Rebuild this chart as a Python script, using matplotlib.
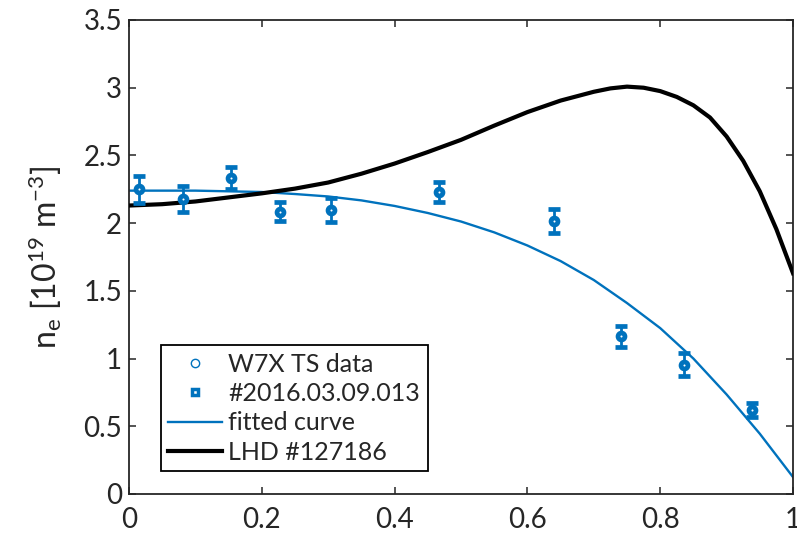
import matplotlib
matplotlib.use("Agg")
import matplotlib.pyplot as plt
from matplotlib.lines import Line2D

plt.rcParams['font.family'] = ['Lato', 'DejaVu Sans']
plt.rcParams['mathtext.fontset'] = 'custom'
plt.rcParams['mathtext.rm'] = 'Lato'
plt.rcParams['mathtext.it'] = 'Lato'

# W7X TS data (#2016.03.09.013)
rho_ts = [0.0155, 0.081, 0.1536, 0.227, 0.304, 0.467, 0.640, 0.7405, 0.836, 0.938]
ne_ts = [2.25, 2.18, 2.335, 2.085, 2.095, 2.228, 2.018, 1.163, 0.955, 0.62]
ne_err = [0.10, 0.095, 0.08, 0.07, 0.09, 0.075, 0.09, 0.077, 0.083, 0.054]

# fitted curve
rho_fit = [0.0, 0.05, 0.1, 0.15, 0.2, 0.25, 0.3, 0.35, 0.4, 0.45, 0.5, 0.55,
           0.6, 0.65, 0.7, 0.75, 0.8, 0.85, 0.9, 0.95, 1.0]
ne_fit = [2.24, 2.24, 2.24, 2.235, 2.23, 2.215, 2.197, 2.168, 2.127, 2.075,
          2.012, 1.932, 1.835, 1.72, 1.58, 1.41, 1.225, 1.0, 0.735, 0.445, 0.125]

# LHD #127186
rho_lhd = [0.0, 0.05, 0.1, 0.15, 0.2, 0.25, 0.3, 0.35, 0.4, 0.45, 0.5, 0.55,
           0.6, 0.65, 0.7, 0.725, 0.75, 0.775, 0.8, 0.825, 0.85, 0.875, 0.9,
           0.925, 0.95, 0.975, 1.0]
ne_lhd = [2.13, 2.14, 2.16, 2.19, 2.22, 2.255, 2.3, 2.365, 2.44, 2.525, 2.615,
          2.72, 2.82, 2.905, 2.97, 2.995, 3.008, 3.0, 2.975, 2.932, 2.87, 2.78,
          2.64, 2.46, 2.235, 1.955, 1.63]

xticks = [0, 0.2, 0.4, 0.6, 0.8, 1]
xticklabels = ['0', '0.2', '0.4', '0.6', '0.8', '1']
yticks = [0, 0.5, 1, 1.5, 2, 2.5, 3, 3.5]
yticklabels = ['0', '0.5', '1', '1.5', '2', '2.5', '3', '3.5']
legend_labels = ['W7X TS data', '#2016.03.09.013', 'fitted curve', 'LHD #127186']

blue = '#0072BD'
axc = '#262626'

W, H = 797, 538
fig = plt.figure(figsize=(W / 100, H / 100), dpi=100)
ax = fig.add_axes([129 / W, (H - 494) / H, 664 / W, 474 / H])

ax.plot(rho_fit, ne_fit, color=blue, lw=1.7, zorder=2)
ax.plot(rho_lhd, ne_lhd, color='black', lw=3.0, zorder=3,
        solid_joinstyle='round')
ax.errorbar(rho_ts, ne_ts, yerr=ne_err, fmt='o', color=blue, ms=5.0,
            mew=3.4, mfc='white', elinewidth=2.0, capsize=4.5, capthick=2.0,
            zorder=4)

ax.set_xlim(0, 1)
ax.set_ylim(0, 3.5)
ax.set_xticks(xticks)
ax.set_xticklabels(xticklabels)
ax.set_yticks(yticks)
ax.set_yticklabels(yticklabels)
ax.tick_params(direction='in', length=5, width=1.1, colors=axc, labelsize=20,
               top=True, right=True, pad=5)
ax.tick_params(axis='x', pad=9)
for s in ax.spines.values():
    s.set_linewidth(1.3)
    s.set_color(axc)

ax.set_ylabel(r'n$_{e}$ [10$^{19}$ m$^{-3}$]', fontsize=23,
              color=axc, labelpad=14)

h1 = Line2D([], [], ls='none', marker='o', ms=6, mew=1.0, mfc='white',
            mec=blue)
h2 = Line2D([], [], ls='none', marker='s', ms=5, mew=2.5, mfc='white',
            mec=blue)
h3 = Line2D([], [], color=blue, lw=1.7)
h4 = Line2D([], [], color='black', lw=3.0)
leg = ax.legend([h1, h2, h3, h4], legend_labels,
                loc='lower left', bbox_to_anchor=(0.048, 0.048),
                fontsize=18, frameon=True, fancybox=False, framealpha=1,
                edgecolor='black', handlelength=2.15, handletextpad=0.25,
                labelspacing=0.25, borderpad=0.3, borderaxespad=0)
leg.get_frame().set_linewidth(1.3)
for t in leg.get_texts():
    t.set_color(axc)

fig.savefig('out.png', dpi=100)
